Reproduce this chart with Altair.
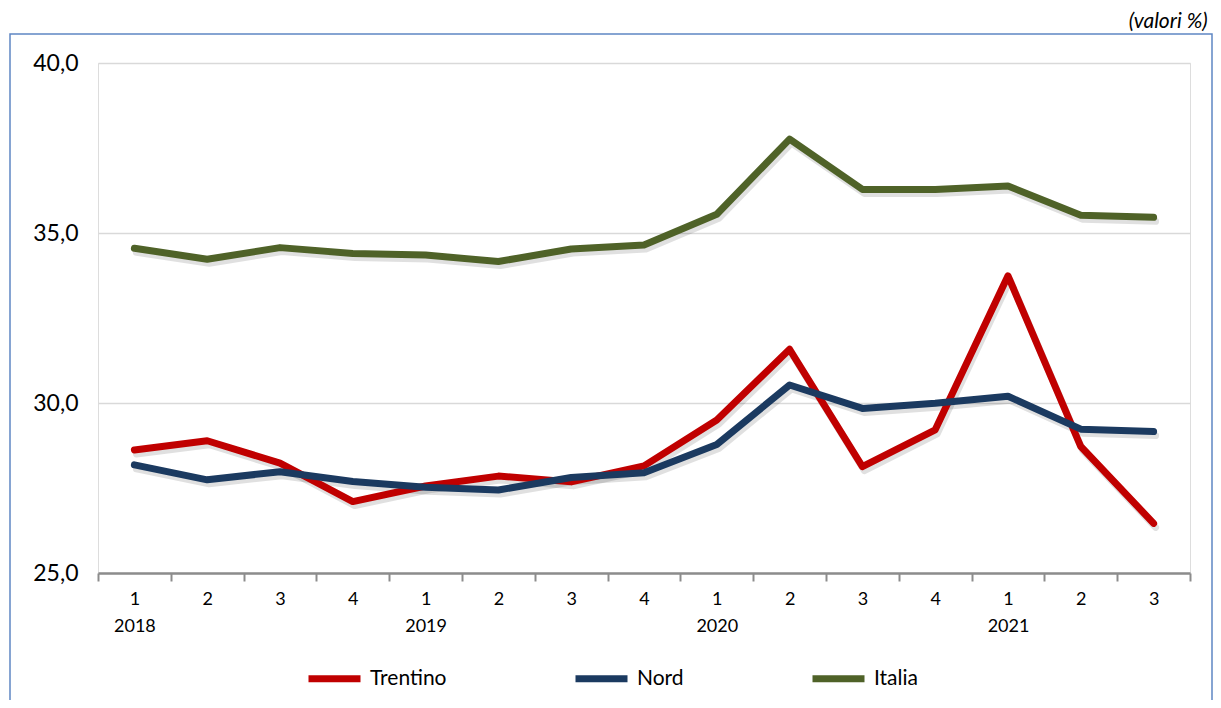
import altair as alt
import pandas as pd

# Trimestri 2018-2021 (etichette asse x)
ANNI = ["2018", "2018", "2018", "2018", "2019", "2019", "2019", "2019",
        "2020", "2020", "2020", "2020", "2021", "2021", "2021"]
TRIMESTRI = ["1", "2", "3", "4", "1", "2", "3", "4",
             "1", "2", "3", "4", "1", "2", "3"]

# Valori %
TRENTINO = [28.62, 28.89, 28.23, 27.10, 27.56, 27.85, 27.68, 28.15,
            29.50, 31.58, 28.13, 29.21, 33.74, 28.72, 26.46]
NORD = [28.18, 27.74, 27.98, 27.69, 27.52, 27.44, 27.81, 27.95,
        28.78, 30.53, 29.84, 29.99, 30.20, 29.23, 29.16]
ITALIA = [34.55, 34.23, 34.57, 34.40, 34.35, 34.16, 34.53, 34.65,
          35.55, 37.76, 36.28, 36.28, 36.38, 35.52, 35.46]

SERIE = ["Trentino", "Nord", "Italia"]
COLORI = ["#c00000", "#1b3a60", "#4f6228"]

PERIODI = [f"{a}-{t}" for a, t in zip(ANNI, TRIMESTRI)]

rows = []
for nome, valori in zip(SERIE, [TRENTINO, NORD, ITALIA]):
    for p, v in zip(PERIODI, valori):
        rows.append({"periodo": p, "serie": nome, "valore": v})
df = pd.DataFrame(rows)

W, H = 1092, 510
FONT = "Lato"

x_enc = alt.X(
    "periodo:N",
    sort=PERIODI,
    bandPosition=0.5,
    scale=alt.Scale(type="band", paddingInner=0, paddingOuter=0),
    axis=alt.Axis(
        title=None,
        grid=False,
        tickBand="extent",
        labelAngle=0,
        labelExpr="[split(datum.value, '-')[1], split(datum.value, '-')[1] == '1' ? split(datum.value, '-')[0] : '']",
        labelFontSize=18,
        labelLineHeight=27,
        labelPadding=9,
        labelColor="#000000",
        labelFont=FONT,
        domainColor="#8c8c8c",
        domainWidth=2.5,
        tickColor="#8c8c8c",
        tickWidth=2,
        tickSize=8,
    ),
)
y_enc = alt.Y(
    "valore:Q",
    scale=alt.Scale(domain=[25, 40], nice=False, zero=False),
    axis=alt.Axis(
        title=None,
        values=[25, 30, 35, 40],
        labelExpr="replace(format(datum.value, '.1f'), '.', ',')",
        labelFontSize=23,
        labelFont=FONT,
        labelColor="#000000",
        labelPadding=20,
        domain=False,
        ticks=False,
        gridColor="#d9d9d9",
        gridWidth=1.5,
    ),
)

cornice = (
    alt.Chart(pd.DataFrame({"k": [0]}))
    .mark_rect(fillOpacity=0, stroke="#5f86c4", strokeWidth=1.5, clip=False)
    .encode(
        x=alt.value(-88), x2=alt.value(W + 22),
        y=alt.value(-29), y2=alt.value(H + 200),
    )
)

ombra = (
    alt.Chart(df)
    .mark_line(strokeWidth=7, color="#000000", opacity=0.12,
               strokeCap="round", strokeJoin="round", xOffset=2, yOffset=4)
    .encode(x=x_enc, y=y_enc, detail="serie:N")
)

linee = (
    alt.Chart(df)
    .mark_line(strokeWidth=7, strokeCap="round", strokeJoin="round")
    .encode(
        x=x_enc,
        y=y_enc,
        color=alt.Color(
            "serie:N",
            scale=alt.Scale(domain=SERIE, range=COLORI),
            sort=SERIE,
            legend=alt.Legend(
                title=None,
                orient="none",
                direction="horizontal",
                legendX=207,
                legendY=586,
                symbolType="stroke",
                symbolSize=2704,
                symbolStrokeWidth=7,
                labelFontSize=21,
                labelFont=FONT,
                labelColor="#000000",
                labelOffset=6,
                columnPadding=114,
            ),
        ),
        order=alt.Order("serie_ord:Q"),
    )
    .transform_calculate(serie_ord="indexof(['Trentino','Nord','Italia'], datum.serie)")
)

chart = (
    alt.layer(cornice, ombra, linee)
    .properties(
        width=W,
        height=H,
        autosize=alt.AutoSizeParams(type="none"),
        padding={"left": 90, "top": 55, "right": 23, "bottom": 127},
        title=alt.TitleParams(
            text="(valori %)",
            anchor="end",
            fontStyle="italic",
            fontWeight="normal",
            fontSize=21,
            font=FONT,
            color="#000000",
            dx=-5,
            offset=1,
        ),
    )
    .configure_view(stroke=None)
    .configure(background="#ffffff")
)

chart.save("out.html", embed_options={"renderer": "svg", "actions": False})
